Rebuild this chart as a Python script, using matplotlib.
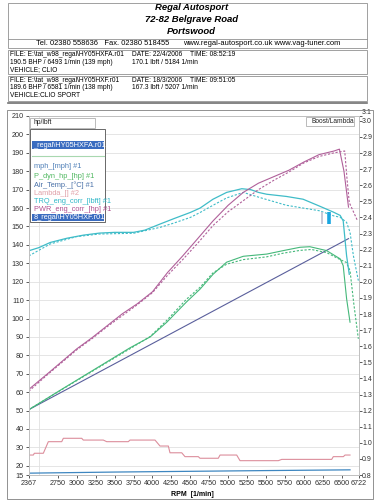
import matplotlib
matplotlib.use('Agg')
import matplotlib.pyplot as plt
from matplotlib.patches import Rectangle
from matplotlib.lines import Line2D

W, H = 377, 500

# --- values ---
# run 1 (solid) / run 2 (dashed)
pwr1_rpm = [2367, 2600, 2800, 3000, 3200, 3400, 3600, 3800, 4000, 4200, 4400, 4600, 4800, 5000, 5200, 5400, 5600, 5800, 6000, 6200, 6400, 6470, 6530, 6590]
pwr1_hp = [61.5, 69.5, 76.5, 83.5, 89.5, 96.0, 102.5, 108.0, 114.5, 125.0, 134.0, 143.5, 153.0, 161.5, 168.5, 173.5, 177.0, 180.5, 185.0, 189.0, 191.0, 192.0, 180.0, 160.5]
pwr2_rpm = [2367, 2600, 2800, 3000, 3200, 3400, 3600, 3800, 4000, 4200, 4400, 4600, 4800, 5000, 5200, 5400, 5600, 5800, 6000, 6200, 6400, 6540, 6570, 6600, 6710]
pwr2_hp = [60.5, 69.0, 76.0, 83.0, 89.0, 95.5, 101.5, 107.5, 114.0, 123.5, 132.0, 141.0, 150.5, 158.0, 164.0, 170.0, 175.0, 179.5, 184.5, 188.0, 190.0, 191.0, 176.0, 163.0, 153.0]

trq1_rpm = [2367, 2500, 2650, 2870, 3090, 3300, 3500, 3750, 3900, 4100, 4280, 4500, 4630, 4800, 4980, 5180, 5300, 5400, 5510, 5770, 5990, 6210, 6390, 6480, 6520, 6565, 6600]
trq1_lbft = [136.8, 138.5, 141.3, 143.6, 145.3, 146.4, 146.8, 146.8, 148.0, 151.3, 154.2, 157.6, 160.0, 164.8, 168.5, 170.5, 170.0, 168.5, 167.5, 166.3, 164.8, 161.0, 157.8, 156.0, 153.0, 134.0, 124.0]
trq2_rpm = [2367, 2650, 3000, 3300, 3750, 4100, 4280, 4500, 4630, 4800, 4980, 5200, 5420, 5770, 6080, 6210, 6390, 6480, 6565, 6610, 6655, 6720]
trq2_lbft = [134.0, 140.5, 144.5, 145.9, 146.3, 149.5, 151.8, 154.9, 157.6, 161.5, 165.5, 168.5, 165.7, 161.5, 159.4, 158.5, 155.8, 155.0, 152.2, 146.8, 134.0, 120.6]

pdyn1_rpm = [2367, 2800, 3200, 3700, 3970, 4190, 4450, 4630, 4800, 4980, 5200, 5510, 5730, 5950, 6080, 6300, 6480, 6520, 6565, 6610]
pdyn1_hp = [50.5, 61.5, 71.5, 84.0, 90.0, 98.0, 109.0, 116.0, 124.0, 130.6, 133.8, 135.0, 136.9, 138.7, 139.0, 136.9, 132.4, 128.7, 110.7, 98.0]
pdyn2_rpm = [2367, 2800, 3200, 3700, 3970, 4190, 4450, 4630, 4800, 4980, 5200, 5510, 5730, 5950, 6100, 6300, 6480, 6560, 6610, 6660, 6720]
pdyn2_hp = [50.5, 61.3, 71.2, 83.5, 90.2, 99.0, 110.5, 117.0, 124.8, 129.5, 132.0, 133.5, 135.5, 137.0, 137.5, 135.8, 132.0, 130.5, 126.0, 108.0, 89.0]

mph_rpm = [2367, 3000, 4000, 5000, 6000, 6590]
mph = [50.5, 64.4, 86.4, 108.4, 130.4, 143.4]

air_rpm = [2367, 3500, 4500, 5500, 6610]
air_temp = [16.0, 16.6, 17.0, 17.4, 17.8]

lam_rpm = [2367, 2427, 2440, 2559, 2625, 2802, 2823, 3066, 3087, 3351, 3396, 3681, 3704, 4034, 4100, 4210, 4232, 4387, 4430, 4606, 4628, 4870, 4893, 5113, 5157, 5663, 5708, 6368, 6389, 6522, 6544, 6610]
lam = [0.924, 0.924, 0.935, 0.935, 1.007, 1.007, 1.028, 1.028, 1.017, 1.017, 1.007, 1.007, 1.017, 1.017, 0.980, 0.980, 0.938, 0.938, 0.914, 0.914, 0.904, 0.904, 0.924, 0.924, 0.889, 0.889, 0.897, 0.897, 0.914, 0.914, 0.924, 0.924]

cursor_rpm = [6236, 6330]
cursor_lo, cursor_hi = 151.6, 157.6

x_ticks = [2367, 2750, 3000, 3250, 3500, 3750, 4000, 4250, 4500, 4750, 5000, 5250, 5500, 5750, 6000, 6250, 6500, 6722]
x_grid = [2500, 2750, 3000, 3250, 3500, 3750, 4000, 4250, 4500, 4750, 5000, 5250, 5500, 5750, 6000, 6250, 6500]
y_ticks = [15, 20, 30, 40, 50, 60, 70, 80, 90, 100, 110, 120, 130, 140, 150, 160, 170, 180, 190, 200, 210]
r_ticks = [0.8, 0.9, 1.0, 1.1, 1.2, 1.3, 1.4, 1.5, 1.6, 1.7, 1.8, 1.9, 2.0, 2.1, 2.2, 2.3, 2.4, 2.5, 2.6, 2.7, 2.8, 2.9, 3.0, 3.03]
r_labels = ['0.8', '0.9', '1.0', '1.1', '1.2', '1.3', '1.4', '1.5', '1.6', '1.7', '1.8', '1.9', '2.0', '2.1', '2.2', '2.3', '2.4', '2.5', '2.6', '2.7', '2.8', '2.9', '3.0', '3.1']

c_pwr = '#b0609a'
c_trq = '#3fbcc8'
c_pdyn = '#45b87a'
c_mph = '#5a5f9c'
c_air = '#3d86c0'
c_lam = '#dc8e9c'

plt.rcParams['font.family'] = ['Liberation Sans Narrow', 'Liberation Sans', 'DejaVu Sans']

fig = plt.figure(figsize=(W / 100, H / 100), dpi=100)
fig.patch.set_facecolor('white')


def fx(x):
    return x / W


def fy(y):
    return 1 - y / H


def box(x0, y0, x1, y1, ec='#909090', fc='none', lw=0.6):
    fig.patches.append(Rectangle((fx(x0), fy(y1)), (x1 - x0) / W, (y1 - y0) / H,
                                 transform=fig.transFigure, ec=ec, fc=fc, lw=lw))


def txt(x, y, s, **kw):
    fig.text(fx(x), fy(y), s, va='center', **kw)


# header
hf = ['Liberation Sans', 'DejaVu Sans']
box(8, 3, 367, 48)
fig.add_artist(Line2D([fx(8), fx(367)], [fy(38.5), fy(38.5)], color='#909090', lw=0.6))
txt(191.5, 8, 'Regal Autosport', ha='center', fontsize=6.8, weight='bold', style='italic', family=hf)
txt(191.5, 20, '72-82 Belgrave Road', ha='center', fontsize=6.8, weight='bold', style='italic', family=hf)
txt(191.5, 32, 'Portswood', ha='center', fontsize=6.8, weight='bold', style='italic', family=hf)
txt(36, 43.5, 'Tel. 02380 558636   Fax. 02380 518455', fontsize=5.4, family=hf)
txt(183, 43.5, 'www.regal-autosport.co.uk www.vag-tuner.com', fontsize=5.4, family=hf)

box(8, 50, 367, 74)
txt(9.5, 54.5, 'FILE: E:\\tat_w98_regal\\HY05HXFA.r01', fontsize=4.8)
txt(132.5, 54.5, 'DATE: 22/4/2006', fontsize=4.8)
txt(190, 54.5, 'TIME: 08:52:19', fontsize=4.8)
txt(9.5, 62, '190.5 BHP / 6493 1/min (139 mph)', fontsize=4.8)
txt(131.5, 62, '170.1 lbft / 5184 1/min', fontsize=4.8)
txt(9.5, 69.5, 'VEHICLE; CLIO', fontsize=4.8)

box(8, 76, 367, 101)
txt(9.5, 80.5, 'FILE: E:\\tat_w98_regal\\HY05HXF.r01', fontsize=4.8)
txt(132.5, 80.5, 'DATE: 18/3/2006', fontsize=4.8)
txt(190, 80.5, 'TIME: 09:51:05', fontsize=4.8)
txt(9.5, 88, '189.6 BHP / 6581 1/min (138 mph)', fontsize=4.8)
txt(131.5, 88, '167.3 lbft / 5207 1/min', fontsize=4.8)
txt(9.5, 95.5, 'VEHICLE:CLIO SPORT', fontsize=4.8)
fig.add_artist(Line2D([fx(8), fx(367)], [fy(102.5), fy(102.5)], color='#707070', lw=1.2))

# chart frame
box(7, 110, 373, 499, ec='#808080')

ax = fig.add_axes([fx(28.8), fy(475), (358.5 - 28.8) / W, (475 - 116) / H])
ax.set_xlim(2367, 6722)
ax.set_ylim(15, 210)
ax2 = ax.twinx()
ax2.set_ylim(0.8, 3.03)

ax.plot(air_rpm, air_temp, color=c_air, lw=0.9)
ax.plot(mph_rpm, mph, color=c_mph, lw=0.8)
ax.plot(pdyn2_rpm, pdyn2_hp, color=c_pdyn, lw=0.8, ls=(0, (2, 1.5)))
ax.plot(pdyn1_rpm, pdyn1_hp, color=c_pdyn, lw=0.8)
ax.plot(trq2_rpm, trq2_lbft, color=c_trq, lw=0.8, ls=(0, (2, 1.5)))
ax.plot(trq1_rpm, trq1_lbft, color=c_trq, lw=0.9)
ax.plot(pwr2_rpm, pwr2_hp, color=c_pwr, lw=0.8, ls=(0, (2, 1.5)))
ax.plot(pwr1_rpm, pwr1_hp, color=c_pwr, lw=0.8)
ax.vlines(cursor_rpm[0], cursor_lo, cursor_hi, color='#c4c4d4', lw=1.3)
ax.vlines(cursor_rpm[1], cursor_lo, cursor_hi, color='#1aa6e0', lw=2.6)
ax2.plot(lam_rpm, lam, color=c_lam, lw=0.8)

ax.set_xticks(x_ticks)
ax.set_xticklabels([str(v) for v in x_ticks])
ax.set_xticks(x_grid, minor=True)
ax.set_yticks(y_ticks)
ax.set_yticklabels([str(v) for v in y_ticks])
ax.grid(axis='x', which='minor', color='#e0e0e0', lw=0.6)
ax.grid(axis='y', which='major', color='#e0e0e0', lw=0.6)
ax.set_axisbelow(True)
ax.tick_params(which='minor', length=0)
ax.tick_params(which='major', labelsize=5.2, length=2.5, width=0.6, pad=1.0,
               color='#404040', labelcolor='#303030')
ax2.set_yticks(r_ticks)
ax2.set_yticklabels(r_labels)
ax2.tick_params(labelsize=5.0, length=2.2, width=0.6, pad=0.4, color='#404040', labelcolor='#303030')
ax2.get_yticklabels()[-1].set_va('bottom')
for a in (ax, ax2):
    for sp in a.spines.values():
        sp.set_color('#c0c0c0')
        sp.set_linewidth(0.6)

txt(192, 494, 'RPM  [1/min]', ha='center', fontsize=5, weight='bold', family=hf)

# legend panel
box(29.5, 118, 95, 128, ec='#b0b0b0', fc='white')
txt(33, 123, 'hp/lbft', fontsize=4.8, color='#202020')
box(29.5, 129, 105, 221.5, ec='#505050', fc='white')
box(31.8, 141.5, 104, 149.5, ec='none', fc='#3a6cc0')
txt(33.5, 145.5, '_regal\\HY05HXFA.r01', fontsize=5.3, color='white')
fig.add_artist(Line2D([fx(32), fx(104)], [fy(155.5), fy(155.5)], color='#a8d8b0', lw=0.8))
legend_names = ['mph_[mph] #1', 'P_dyn_hp_[hp] #1', 'Air_Temp._[\u00b0C] #1', 'Lambda_[] #2',
                'TRQ_eng_corr_[lbft] #1', 'PWR_eng_corr_[hp] #1']
legend_cols = ['#5080b8', '#50b860', '#4870a8', '#e0a0a8', '#30b8c8', '#b05090']
legend_y = [166.7, 176, 185, 193.3, 201.7, 209.3]
for name, col, yy in zip(legend_names, legend_cols, legend_y):
    txt(33.5, yy, name, fontsize=5.3, color=col)
box(31.8, 213.7, 104, 220.7, ec='none', fc='#3a6cc0')
txt(33.5, 217.2, '8_regal\\HY05HXF.r01', fontsize=5.3, color='white')

box(306, 117, 354, 126, ec='#b0b0b0', fc='white')
txt(311, 121.5, 'Boost/Lambda', fontsize=4.8, color='#202020')

fig.savefig('out.png', dpi=100)
